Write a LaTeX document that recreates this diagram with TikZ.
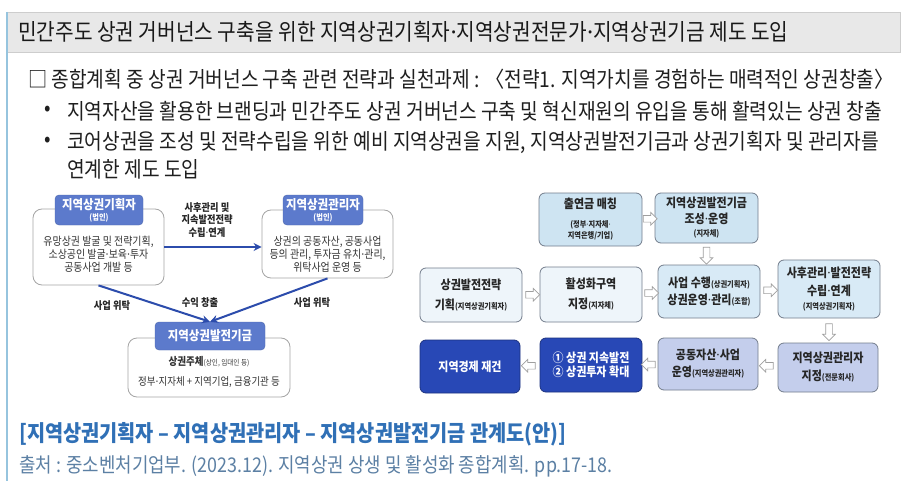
\documentclass[tikz,border=0pt]{standalone}
\usepackage{fontspec}
\setmainfont{Noto Sans CJK KR}[FakeStretch=0.88]
\newfontfamily\latinf{Noto Sans}
\usetikzlibrary{shapes.arrows,arrows.meta,calc}
\definecolor{barfill}{RGB}{232,232,232}
\definecolor{baredge}{RGB}{205,205,205}
\definecolor{sideline}{RGB}{150,196,222}
\definecolor{hdrblue}{RGB}{92,122,204}
\definecolor{arrowblue}{RGB}{44,76,172}
\definecolor{lboxedge}{RGB}{165,165,165}
\definecolor{rboxedge}{RGB}{115,125,140}
\definecolor{paleA}{RGB}{206,228,242}
\definecolor{paleB}{RGB}{238,245,250}
\definecolor{paleC}{RGB}{216,234,246}
\definecolor{deepblue}{RGB}{40,72,182}
\definecolor{lavender}{RGB}{196,206,236}
\definecolor{capblue}{RGB}{48,112,182}
\definecolor{srcblue}{RGB}{92,128,164}
\newcommand{\smp}[1]{{\fontsize{8.2}{9.5}\selectfont #1}}
\newcommand{\md}{{\latinf ·}}
\begin{document}
\begin{tikzpicture}[x=1pt,y=-1pt,
  bodytxt/.style={inner sep=0, anchor=west, font=\fontsize{21.8}{24}\selectfont, text=black!88},
  hdr/.style={fill=hdrblue, draw=hdrblue!85!black, line width=0.4pt, rounded corners=4pt, text=white, align=center, inner sep=0, font=\bfseries\fontsize{13}{14}\selectfont},
  wbox/.style={draw=lboxedge, fill=white, rounded corners=9pt, line width=0.8pt, inner sep=0},
  btext/.style={inner sep=0, align=center, font=\fontsize{11.3}{13}\selectfont, text=black!80},
  lbl/.style={inner sep=0, align=center, font=\bfseries\fontsize{10.5}{12.5}\selectfont, text=black!85},
  blu/.style={draw=arrowblue, line width=2pt, -{Stealth[length=8pt,width=8pt]}},
  fbox/.style={draw=rboxedge, rounded corners=6pt, line width=0.8pt, align=center, inner sep=0, font=\bfseries\fontsize{12.5}{16}\selectfont, text=black!85},
  harrow/.style={single arrow, draw=gray!75, fill=white, inner sep=3pt, minimum width=12pt, minimum height=14pt, single arrow head extend=3pt, line width=0.7pt}
]
\useasboundingbox (0,0) rectangle (904,481);
\fill[white] (0,0) rectangle (904,481);
% title bar
\filldraw[fill=barfill, draw=baredge, line width=0.8pt] (7,12) rectangle (900,52);
\draw[sideline, line width=2pt] (7,12) -- (7,481);
\node[anchor=west, inner sep=0, font=\fontsize{23}{24}\selectfont, text=black!90] (title) at (18,32)
  {민간주도 상권 거버넌스 구축을 위한 지역상권기획자\md 지역상권전문가\md 지역상권기금 제도 도입};
% body text
\node[bodytxt] (l1) at (28,79) {□ 종합계획 중 상권 거버넌스 구축 관련 전략과 실천과제 : 〈전략1. 지역가치를 경험하는 매력적인 상권창출〉};
\node[bodytxt] (b1) at (44,111) {•};
\node[bodytxt] (l2) at (67,111) {지역자산을 활용한 브랜딩과 민간주도 상권 거버넌스 구축 및 혁신재원의 유입을 통해 활력있는 상권 창출};
\node[bodytxt] (b2) at (44,142) {•};
\node[bodytxt] (l3) at (67,142) {코어상권을 조성 및 전략수립을 위한 예비 지역상권을 지원, 지역상권발전기금과 상권기획자 및 관리자를};
\node[bodytxt] (l4) at (67,169) {연계한 제도 도입};
% left diagram
\node[wbox, minimum width=131pt, minimum height=76pt] (p1) at (98.5,247) {};
\node[hdr, minimum width=88pt, minimum height=30pt] (h1) at (99,210) {지역상권기획자\\[-3pt]\smp{(법인)}};
\node[btext] (p1t) at (98.5,254.5) {유망상권 발굴 및 전략기획,\\소상공인 발굴\md 보육\md 투자\\공동사업 개발 등};
\node[wbox, minimum width=131pt, minimum height=68pt] (p2) at (327.5,244) {};
\node[hdr, minimum width=80pt, minimum height=30pt] (h2) at (323,210) {지역상권관리자\\[-3pt]\smp{(법인)}};
\node[btext] (p2t) at (327.5,254) {상권의 공동자산, 공동사업\\등의 관리, 투자금 유치\md 관리,\\위탁사업 운영 등};
\node[wbox, minimum width=162pt, minimum height=59pt] (p3) at (209,367.5) {};
\node[hdr, minimum width=110pt, minimum height=28pt] (h3) at (210,336) {지역상권발전기금};
\node[btext, font=\fontsize{10.8}{20}\selectfont] (p3t) at (209,372) {\textbf{상권주체}{\fontsize{7.5}{8}\selectfont(상인, 임대인 등)}\\정부\md 지자체 + 지역기업, 금융기관 등};
\draw[blu] (p1.east) -- (p1.east -| p2.west);
\draw[blu] (p1.south) -- (h3.north);
\draw[blu] (p2.south) -- (h3.north);
\node[lbl] (lb1) at (207,220) {사후관리 및\\지속발전전략\\수립\md 연계};
\node[lbl] (lb2) at (112,306) {사업 위탁};
\node[lbl] (lb3) at (200,303) {수익 창출};
\node[lbl] (lb4) at (312,303) {사업 위탁};
% right flow chart
\node[fbox, fill=paleA, minimum width=103pt, minimum height=53pt] (r1) at (590.5,219.5) {출연금 매칭\\[3pt]\smp{(정부\md 지자체\md}\\[-5pt]\smp{지역은행/기업)}};
\node[fbox, fill=paleA, minimum width=103pt, minimum height=50pt] (r2) at (706.5,218) {지역상권발전기금\\조성\md 운영\\[-3pt]\smp{(지자체)}};
\node[fbox, fill=paleB, minimum width=102pt, minimum height=54pt] (s1) at (471,295) {상권발전전략\\[4pt]기획\smp{(지역상권기획자)}};
\node[fbox, fill=paleB, minimum width=102pt, minimum height=55pt] (s2) at (591,294.5) {활성화구역\\[4pt]지정\smp{(지자체)}};
\node[fbox, fill=paleC, minimum width=102pt, minimum height=53pt] (s3) at (709,291.5) {사업 수행\smp{(상권기획자)}\\[1pt]상권운영\md 관리\smp{(조합)}};
\node[fbox, fill=paleC, minimum width=102pt, minimum height=58pt] (s4) at (829,289) {사후관리\md 발전전략\\[2pt]수립\md 연계\\[-2pt]\smp{(지역상권기획자)}};
\node[fbox, fill=deepblue, draw=deepblue!70!black, text=white, minimum width=100pt, minimum height=53pt] (t1) at (470,366.5) {지역경제 재건};
\node[fbox, fill=deepblue, draw=deepblue!70!black, text=white, minimum width=102pt, minimum height=54pt] (t2) at (591,365) {① 상권 지속발전\\[-2pt]② 상권투자 확대};
\node[fbox, fill=lavender, minimum width=100pt, minimum height=52pt] (t3) at (708,364) {공동자산\md 사업\\[1pt]운영\smp{(지역상권관리자)}};
\node[fbox, fill=lavender, minimum width=100pt, minimum height=49pt] (t4) at (828,367.5) {지역상권관리자\\[2pt]지정\smp{(전문회사)}};
% hollow block arrows
\node[harrow] (a1) at ($(r1.east)!0.5!(r2.west)$) {};
\node[harrow, shape border rotate=270, minimum height=17pt] (a2) at ($(r2.south)!0.5!(r2.south |- s3.north)$) {};
\node[harrow] (a3) at ($(s1.east)!0.5!(s2.west)$) {};
\node[harrow] (a4) at ($(s2.east)!0.5!(s3.west)$) {};
\node[harrow] (a5) at ($(s3.east)!0.5!(s4.west)$) {};
\node[harrow, shape border rotate=270, minimum height=17pt] (a6) at ($(s4.south)!0.5!(s4.south |- t4.north)$) {};
\node[harrow, shape border rotate=180] (a7) at ($(t4.west)!0.5!(t3.east)$) {};
\node[harrow, shape border rotate=180] (a8) at ($(t3.west)!0.5!(t2.east)$) {};
\node[harrow, shape border rotate=180] (a9) at ($(t2.west)!0.5!(t1.east)$) {};
% caption and source
\node[anchor=west, inner sep=0, font=\bfseries\fontsize{22.4}{24}\selectfont, text=capblue] (cap) at (19,434)
  {[지역상권기획자 – 지역상권관리자 – 지역상권발전기금 관계도(안)]};
\node[anchor=west, inner sep=0, font=\fontsize{20.3}{22}\selectfont, text=srcblue] (src) at (19,466)
  {출처 : 중소벤처기업부. (2023.12). 지역상권 상생 및 활성화 종합계획. pp.17-18.};
\end{tikzpicture}
\end{document}
